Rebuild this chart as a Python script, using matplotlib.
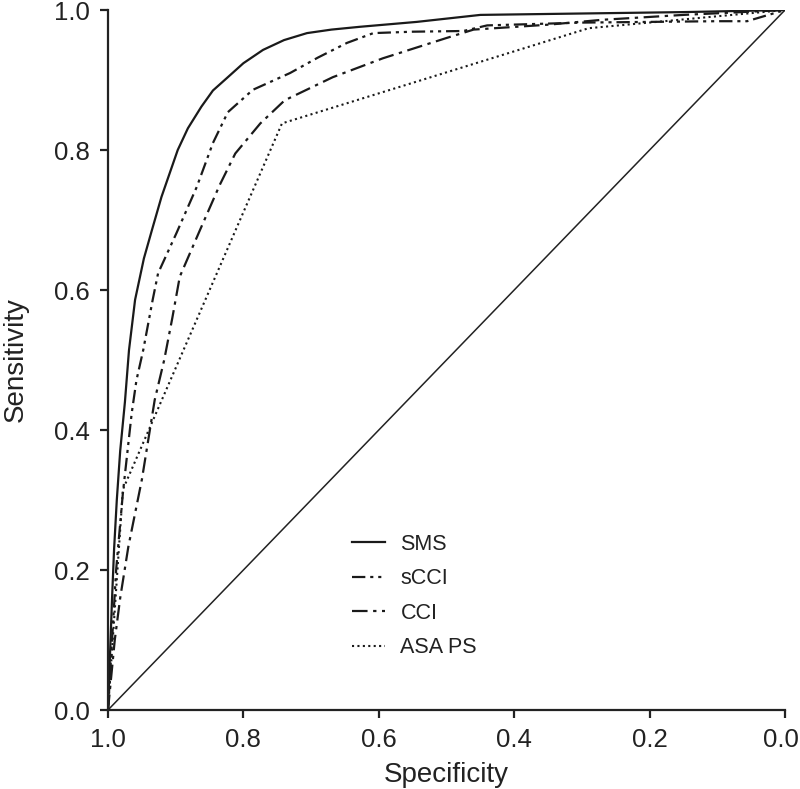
import matplotlib
matplotlib.use("Agg")
import matplotlib.pyplot as plt
from matplotlib.transforms import ScaledTranslation

plt.rcParams['font.family'] = ['Liberation Sans', 'DejaVu Sans']

# ROC curves: (specificity, sensitivity)
sms_spec = [1.0, 0.997, 0.994, 0.991, 0.987, 0.982, 0.975, 0.969, 0.96, 0.947, 0.935,
            0.921, 0.897, 0.882, 0.862, 0.845, 0.823, 0.80, 0.771, 0.74, 0.706, 0.67,
            0.628, 0.544, 0.45, 0.3, 0.15, 0.0]
sms_sens = [0.0, 0.08, 0.16, 0.23, 0.30, 0.37, 0.44, 0.514, 0.586, 0.645, 0.686,
            0.733, 0.80, 0.831, 0.862, 0.885, 0.904, 0.924, 0.943, 0.957, 0.967, 0.972,
            0.976, 0.983, 0.993, 0.995, 0.997, 1.0]

scci_spec = [1.0, 0.994, 0.988, 0.978, 0.965, 0.958, 0.948, 0.934, 0.926, 0.899, 0.869,
             0.845, 0.823, 0.786, 0.731, 0.69, 0.647, 0.608, 0.55, 0.475, 0.44, 0.3, 0.1,
             0.056, 0.0]
scci_sens = [0.0, 0.1, 0.2, 0.31, 0.424, 0.471, 0.514, 0.586, 0.624, 0.681, 0.747,
             0.81, 0.854, 0.886, 0.91, 0.932, 0.953, 0.967, 0.969, 0.97, 0.978, 0.982,
             0.984, 0.984, 1.0]

cci_spec = [1.0, 0.99, 0.982, 0.970, 0.95, 0.931, 0.917, 0.905, 0.894, 0.864, 0.835,
            0.812, 0.775, 0.739, 0.668, 0.594, 0.5, 0.46, 0.35, 0.27, 0.15, 0.0]
cci_sens = [0.0, 0.1, 0.16, 0.233, 0.329, 0.443, 0.5, 0.56, 0.619, 0.686, 0.75,
            0.795, 0.838, 0.871, 0.904, 0.931, 0.96, 0.972, 0.979, 0.986, 0.993, 1.0]

asa_spec = [1.0, 0.978, 0.743, 0.29, 0.0]
asa_sens = [0.0, 0.315, 0.838, 0.974, 1.0]

labels = ['SMS', 'sCCI', 'CCI', 'ASA PS']

fig = plt.figure(figsize=(8, 7.89), dpi=100)
ax = fig.add_axes([108 / 800, 79 / 789, 677 / 800, 700 / 789])

ax.plot([1, 0], [0, 1], color='#222222', lw=1.1)
ax.plot(sms_spec, sms_sens, color='#1a1a1a', lw=1.6, ls='-', label=labels[0])
ax.plot(scci_spec, scci_sens, color='#1a1a1a', lw=1.6,
        ls=(0, (6, 2.2, 1.4, 2.2, 1.4, 2.2)), label=labels[1])
ax.plot(cci_spec, cci_sens, color='#1a1a1a', lw=1.6,
        ls=(0, (7, 2.5, 1.5, 2.5)), label=labels[2])
ax.plot(asa_spec, asa_sens, color='#1a1a1a', lw=1.5, ls=(0, (1, 1.6)), label=labels[3])

ax.set_xlim(1.0, 0.0)
ax.set_ylim(0.0, 1.0)
ax.set_xticks([1.0, 0.8, 0.6, 0.4, 0.2, 0.0])
ax.set_yticks([0.0, 0.2, 0.4, 0.6, 0.8, 1.0])
ax.set_xticklabels(['1.0', '0.8', '0.6', '0.4', '0.2', '0.0'])
ax.set_yticklabels(['0.0', '0.2', '0.4', '0.6', '0.8', '1.0'])

for s in ['top', 'right']:
    ax.spines[s].set_visible(False)
for s in ['left', 'bottom']:
    ax.spines[s].set_linewidth(1.6)
    ax.spines[s].set_color('#222222')
ax.tick_params(axis='both', length=6, width=1.6, color='#222222',
               labelsize=18.5, labelcolor='#222222', pad=7)

# nudge the last x tick label so it stays inside the figure
last = ax.get_xticklabels()[-1]
last.set_transform(last.get_transform() + ScaledTranslation(-0.04, 0, fig.dpi_scale_trans))

ax.set_xlabel('Specificity', fontsize=20, color='#222222', labelpad=7)
ax.set_ylabel('Sensitivity', fontsize=20, color='#222222', labelpad=18)

ax.legend(loc='upper left', bbox_to_anchor=(352 / 800, 1 - 534 / 789),
          bbox_transform=fig.transFigure, frameon=False, fontsize=15.5,
          handlelength=1.55, handletextpad=0.7, labelspacing=0.62,
          borderpad=0, borderaxespad=0, labelcolor='#222222')

fig.savefig('out.png', dpi=100)
